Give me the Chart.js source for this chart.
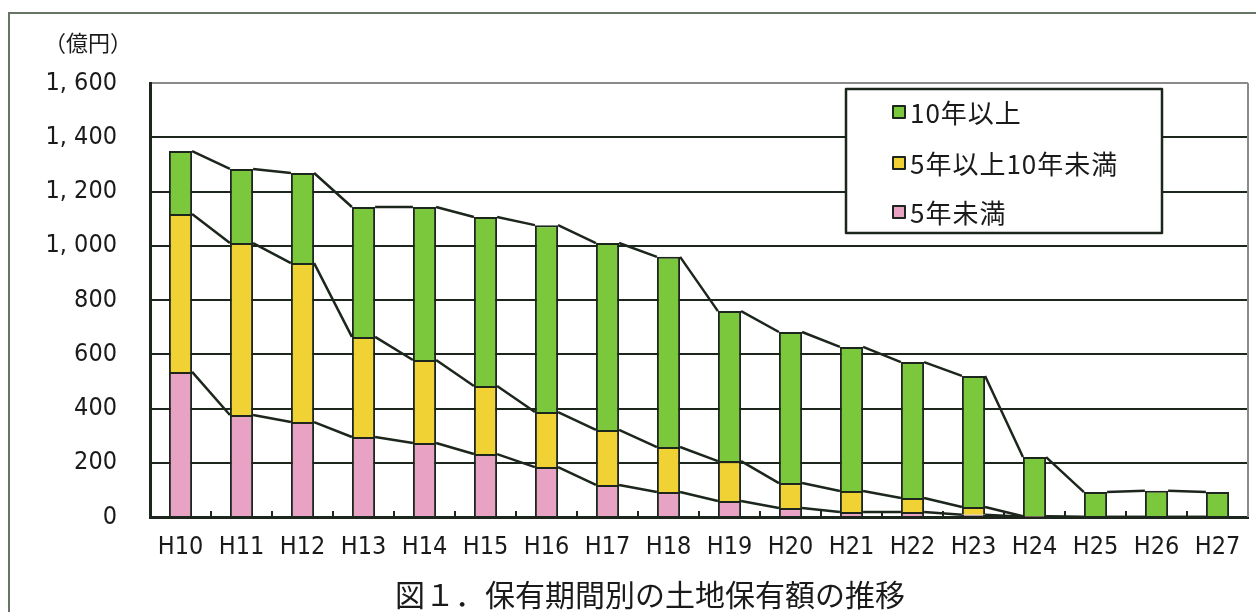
<!DOCTYPE html>
<html>
<head>
<meta charset="utf-8">
<script src="https://cdn.jsdelivr.net/npm/chart.js@4"></script>
<style>
html,body{margin:0;padding:0;background:#fff;}
canvas{display:block;}
</style>
</head>
<body>
<canvas id="c" width="1256" height="612"></canvas>
<script>
// ---- data ----
const categories = ['H10','H11','H12','H13','H14','H15','H16','H17','H18','H19','H20','H21','H22','H23','H24','H25','H26','H27'];
const under5 = [535,376,350,295,273,232,184,118,92,59,33,18,18,8,1,0,0,0];
const from5to10 = [582,634,586,369,306,251,203,203,166,147,92,78,52,29,2,0,0,0];
const over10 = [232,273,332,479,564,623,689,689,701,553,557,531,501,483,218,92,97,92];
const seriesNames = ['5年未満','5年以上10年未満','10年以上'];
const yTickValues = [0,200,400,600,800,1000,1200,1400,1600];
const yTickLabels = ['0','200','400','600','800','1, 000','1, 200','1, 400','1, 600'];
const unitLabel = '（億円）';
const chartTitle = '図１．保有期間別の土地保有額の推移';

const COLORS = ['#e8a2c4','#f0d234','#7cc83c'];
const DARK = '#1c261c';
const NUM_FONT = '"Liberation Sans Narrow","DejaVu Sans Condensed","Liberation Sans",sans-serif';
const JP_FONT = '"Noto Sans CJK JP","Noto Sans CJK SC",sans-serif';

const custom = {
  id: 'custom',
  beforeDraw(chart) {
    const ctx = chart.ctx;
    ctx.save();
    ctx.fillStyle = '#fff';
    ctx.fillRect(0, 0, chart.width, chart.height);
    ctx.strokeStyle = '#667566';
    ctx.lineWidth = 2;
    ctx.beginPath();
    ctx.moveTo(1256, 13);
    ctx.lineTo(9, 13);
    ctx.lineTo(9, 612);
    ctx.stroke();
    ctx.restore();
  },
  afterDatasetsDraw(chart) {
    const ctx = chart.ctx;
    const area = chart.chartArea;
    const xs = chart.scales.x;
    ctx.save();
    ctx.strokeStyle = DARK;
    ctx.lineWidth = 2.5;
    ctx.lineJoin = 'round';
    for (let d = 0; d < chart.data.datasets.length; d++) {
      const els = chart.getDatasetMeta(d).data;
      ctx.beginPath();
      for (let i = 0; i < els.length - 1; i++) {
        const a = els[i], b = els[i + 1];
        ctx.moveTo(a.x + a.width / 2, a.y);
        ctx.lineTo(b.x - b.width / 2, b.y);
      }
      ctx.stroke();
    }
    const half = (xs.getPixelForValue(1) - xs.getPixelForValue(0)) / 2;
    ctx.lineWidth = 2;
    ctx.beginPath();
    for (let i = 0; i < categories.length - 1; i++) {
      const x = xs.getPixelForValue(i) + half;
      ctx.moveTo(x, area.bottom);
      ctx.lineTo(x, area.bottom - 6);
    }
    ctx.stroke();
    ctx.strokeStyle = '#8a8a8a';
    ctx.lineWidth = 2;
    ctx.beginPath();
    ctx.moveTo(area.right, area.top);
    ctx.lineTo(area.right, area.bottom);
    ctx.stroke();

    const lx = 846, ly = 89, lw = 316, lh = 144;
    ctx.fillStyle = '#fff';
    ctx.fillRect(lx, ly, lw, lh);
    ctx.strokeStyle = DARK;
    ctx.lineWidth = 2.5;
    ctx.strokeRect(lx, ly, lw, lh);
    const rows = [112, 163, 212];
    ctx.font = '26px ' + JP_FONT;
    ctx.textBaseline = 'middle';
    ctx.textAlign = 'left';
    for (let r = 0; r < 3; r++) {
      const idx = 2 - r;
      const y = rows[r];
      ctx.fillStyle = COLORS[idx];
      ctx.fillRect(893, y - 6, 12, 12);
      ctx.strokeStyle = DARK;
      ctx.lineWidth = 2;
      ctx.strokeRect(893, y - 6, 12, 12);
      ctx.fillStyle = '#1a1a1a';
      if ('letterSpacing' in ctx) ctx.letterSpacing = '1px';
      ctx.fillText(seriesNames[idx], 910, y + 1);
      if ('letterSpacing' in ctx) ctx.letterSpacing = '0px';
    }
    ctx.restore();
  },
  afterDraw(chart) {
    const ctx = chart.ctx;
    ctx.save();
    ctx.fillStyle = '#1a1a1a';
    ctx.textBaseline = 'middle';
    ctx.textAlign = 'left';
    ctx.font = '22px ' + JP_FONT;
    ctx.fillText(unitLabel, 44, 43);
    ctx.textAlign = 'center';
    ctx.font = '30px ' + JP_FONT;
    ctx.fillText(chartTitle, 650, 595);
    ctx.restore();
  }
};

new Chart(document.getElementById('c'), {
  type: 'bar',
  data: {
    labels: categories,
    datasets: [
      { label: seriesNames[0], data: under5, backgroundColor: COLORS[0] },
      { label: seriesNames[1], data: from5to10, backgroundColor: COLORS[1] },
      { label: seriesNames[2], data: over10, backgroundColor: COLORS[2] }
    ].map(ds => Object.assign(ds, {
      borderColor: DARK,
      borderWidth: c => (c.raw === 0 ? 0 : { top: 2, left: 2, right: 2, bottom: 0 }),
      borderSkipped: false,
      barPercentage: 0.38, categoryPercentage: 1.0
    }))
  },
  options: {
    responsive: false,
    animation: false,
    devicePixelRatio: 1,
    layout: { padding: { top: 83, right: 8, bottom: 0, left: 0 } },
    plugins: { legend: { display: false }, tooltip: { enabled: false }, title: { display: false } },
    scales: {
      x: {
        stacked: true,
        afterFit(s) { s.height = 95; },
        grid: { display: false, drawTicks: false },
        border: { display: true, color: DARK, width: 3 },
        ticks: { color: '#1a1a1a', padding: 15, font: { family: NUM_FONT, size: 25 }, maxRotation: 0, autoSkip: false }
      },
      y: {
        stacked: true,
        min: 0, max: 1600,
        afterFit(s) { s.width = 150; },
        afterBuildTicks(s) { s.ticks = yTickValues.map(v => ({ value: v })); },
        grid: {
          drawTicks: false,
          color: ctx => (ctx.tick && ctx.tick.value === 1600) ? '#8a8a8a' : DARK,
          lineWidth: 2
        },
        border: { display: true, color: DARK, width: 3 },
        ticks: {
          color: '#1a1a1a', padding: 33,
          font: { family: NUM_FONT, size: 25 },
          callback: v => yTickLabels[yTickValues.indexOf(v)]
        }
      }
    }
  },
  plugins: [custom]
});
</script>
</body>
</html>
